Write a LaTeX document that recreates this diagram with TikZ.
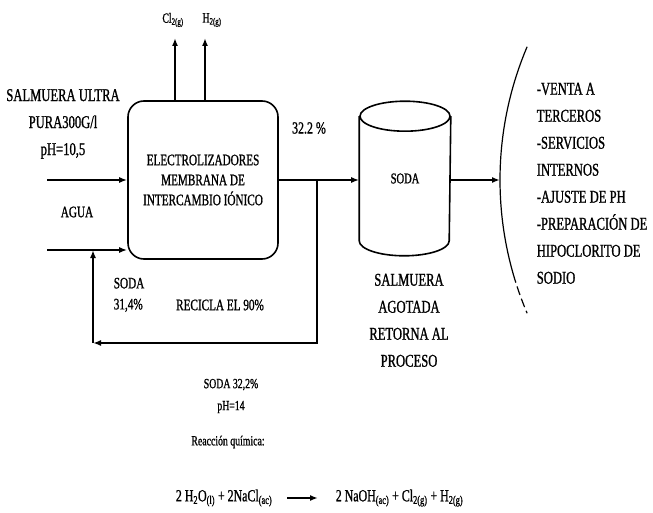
\documentclass[tikz,border=0pt]{standalone}
\usepackage{fontspec}
\setmainfont[FakeStretch=0.7, FakeBold=1]{Liberation Serif}
\usetikzlibrary{arrows.meta}

\begin{document}
\begin{tikzpicture}[x=1pt, y=1pt, line width=1.6pt, >={Latex[length=8pt,width=6pt]},
  big/.style={font=\fontsize{18}{27}\selectfont, align=center, inner sep=0pt},
  mid/.style={font=\fontsize{16}{21}\selectfont, align=center, inner sep=0pt},
  small/.style={font=\fontsize{14}{22}\selectfont, align=center, inner sep=0pt},
  unit/.style={draw, rounded corners=16pt, minimum width=150pt, minimum height=158pt,
    font=\fontsize{16}{20}\selectfont, align=center},
  tank/.style={minimum width=90pt, minimum height=123pt, inner sep=0pt,
    font=\fontsize{15}{18}\selectfont}]

\useasboundingbox (0,0) rectangle (653,-513);

\node[unit] (box) at (203,-180) {ELECTROLIZADORES\\MEMBRANA DE\\INTERCAMBIO IÓNICO};
\node[tank] (tank) at (405,-178.5) {SODA};

\node[big] (feed) at (63,-124) {SALMUERA ULTRA\\PURA300G/l\\pH=10,5};
\node[mid] (agua) at (77,-212) {AGUA};
\node[mid, anchor=north west, align=left] (back) at (113,-277) {SODA\\31,4\%};
\node[mid] (recicla) at (220,-305) {RECICLA EL 90\%};
\node[font=\fontsize{17}{20}\selectfont, inner sep=0pt] (conc) at (309,-128) {32.2 \%};
\node[small] (cl) at (173,-20) {Cl\textsubscript{2(g)}};
\node[small] (h) at (212,-20) {H\textsubscript{2(g)}};
\node[big, anchor=north] (agotada) at (409,-273) {SALMUERA\\AGOTADA\\RETORNA AL\\PROCESO};
\node[big, anchor=north west, align=left] (uses) at (536,-82)
  {-VENTA A\\TERCEROS\\-SERVICIOS\\INTERNOS\\-AJUSTE DE PH\\-PREPARACIÓN DE\\HIPOCLORITO DE\\SODIO};

\node[small] (prod) at (231,-396) {SODA 32,2\%\\pH=14};
\node[small] (reac) at (228,-442) {Reacción química:};
\node[small, font=\fontsize{17}{20}\selectfont, anchor=east] (lhs) at (273,-498)
  {2 H\textsubscript{2}O\textsubscript{(l)} + 2NaCl\textsubscript{(ac)}};
\node[small, font=\fontsize{17}{20}\selectfont, anchor=west] (rhs) at (335,-498)
  {2 NaOH\textsubscript{(ac)} + Cl\textsubscript{2(g)} + H\textsubscript{2(g)}};

\coordinate (o1) at (175,-38);
\coordinate (o2) at (205,-38);
\coordinate (i1) at (47,-180);
\coordinate (i2) at (47,-250);
\coordinate (br) at (317,-180);
\coordinate (r1) at (317,-343);
\coordinate (r2) at (93,-343);
\coordinate (brk) at (500,-180);

% tank outline
\draw (tank.north west) -- (tank.south west)
  arc[start angle=180, end angle=360, x radius=45, y radius=15] -- (tank.north east);
\draw (tank.north) ellipse[x radius=45, y radius=15];

\draw[->] (o1 |- box.north) -- (o1);
\draw[->] (o2 |- box.north) -- (o2);
\draw[->] (i1) -- (i1 -| box.west);
\draw[->] (i2) -- (i2 -| box.west);
\draw[->] (box.east) -- (box.east -| tank.west);
\draw[->] (br) -- (r1) -- (r2);
\draw[->] (r2) -- (r2 |- i2);
\draw[->] (tank.east |- box.east) -- (brk);
\draw[->] ([xshift=14pt]lhs.east) -- ([xshift=-17pt]rhs.west);

% bracket
\draw[line width=1.2pt] (841,-180) ++(157:341) arc[start angle=157, end angle=196, radius=341];
\draw[line width=1.2pt, dash pattern=on 9pt off 4pt] (841,-180) ++(196:341) arc[start angle=196, end angle=203, radius=341];

\end{tikzpicture}
\end{document}
